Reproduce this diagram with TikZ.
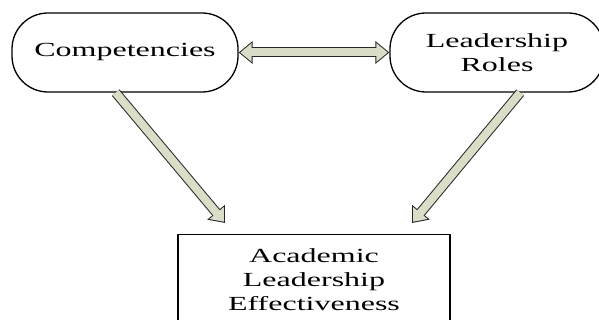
\documentclass[tikz,border=0pt]{standalone}
\usepackage{fontspec}
\setmainfont[FakeStretch=1.6]{Liberation Serif}
\usepackage{xcolor}
\usetikzlibrary{positioning, arrows.meta, calc}

\definecolor{arrowfill}{RGB}{218,221,200}

\begin{document}
\begin{tikzpicture}[
  x=1pt, y=-1pt,
  oval/.style={rectangle, draw, line width=1.3pt, rounded corners=36pt,
    minimum height=79pt, inner sep=0pt, align=center,
    font=\fontsize{20}{24}\selectfont},
  outcome/.style={rectangle, draw, line width=1.3pt, inner xsep=0pt,
    inner ysep=13.5pt, minimum width=272pt, text depth=20pt, align=center,
    font=\fontsize{20}{24}\selectfont},
  blockarrow/.style={line width=10pt, draw=black!85,
    -{Triangle[length=14pt,width=22pt]},
    postaction={draw=arrowfill, line width=8pt, shorten >=1.6pt,
      -{Triangle[length=11.4pt,width=18pt]}}},
  blockboth/.style={line width=10pt, draw=black!85,
    {Triangle[length=14pt,width=22pt]}-{Triangle[length=14pt,width=22pt]},
    postaction={draw=arrowfill, line width=8pt, shorten >=1.6pt, shorten <=1.6pt,
      {Triangle[length=11.4pt,width=18pt]}-{Triangle[length=11.4pt,width=18pt]}}}
]
  \useasboundingbox (0,0) rectangle (599,320);

  % Nodes
  \node[oval, minimum width=226pt] (comp) at (125,52.5) {Competencies};
  \node[oval, minimum width=214pt] (roles) at (497,52.5) {Leadership\\Roles};
  \node[outcome, anchor=north] (effect) at (314,234) {Academic\\Leadership\\Effectiveness};
  \coordinate (tipl) at (225,223);
  \coordinate (tipr) at (412,223);

  % Arrows
  \draw[blockboth] (comp.east) -- (roles.west);
  \draw[blockarrow] (comp.257) -- (tipl);
  \draw[blockarrow] (roles.300) -- (tipr);
\end{tikzpicture}
\end{document}
